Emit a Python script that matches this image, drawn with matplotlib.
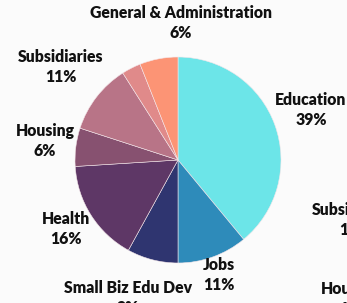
import matplotlib.pyplot as plt

# slices clockwise from 12 o'clock
labels = ['Education', 'Jobs', 'Small Biz Edu Dev', 'Health', 'Housing',
          'Subsidiaries', '', 'General & Administration']
shares = [39, 11, 8, 16, 6, 11, 3, 6]
colors = ['#6ce5e8', '#2e8bba', '#2f3570', '#5e3766', '#875170',
          '#b87487', '#e08a8a', '#fc9475']

# label centres in pixels (x from left, y from top)
label_px = [(311, 110), (219, 275), (128, 298), (66, 229), (45, 141),
            (61, 67), None, (181, 23)]

# neighbouring chart, cut off at the right edge
side_labels = ['Subsidiaries', 'Housing']
side_shares = [11, 6]
side_px = [(355, 220), (350, 299)]

W, H = 347, 303
cx, cy, r = 178, 160, 103

fig = plt.figure(figsize=(W / 100, H / 100), dpi=100)
fig.patch.set_facecolor('#fbfbfb')
ax = fig.add_axes([0, 0, 1, 1])
ax.pie(shares, colors=colors, startangle=90, counterclock=False,
       wedgeprops=dict(edgecolor='#f4e6ea', linewidth=0.4))
ax.set_aspect('auto')
ax.set_xlim(-cx / r, (W - cx) / r)
ax.set_ylim((cy - H) / r, cy / r)
ax.axis('off')

font = dict(family=['Lato', 'DejaVu Sans'], weight='heavy', fontsize=11.3,
            ha='center', va='center', linespacing=1.32, color='#111111')


def put(name, pct, pos):
    x = (pos[0] - cx) / r
    y = (cy - pos[1]) / r
    ax.text(x, y, f'{name}\n{pct}%', clip_on=False, **font)


for name, pct, pos in zip(labels, shares, label_px):
    if pos is not None:
        put(name, pct, pos)

for name, pct, pos in zip(side_labels, side_shares, side_px):
    put(name, pct, pos)

fig.savefig('out.png', dpi=100, facecolor=fig.get_facecolor())
